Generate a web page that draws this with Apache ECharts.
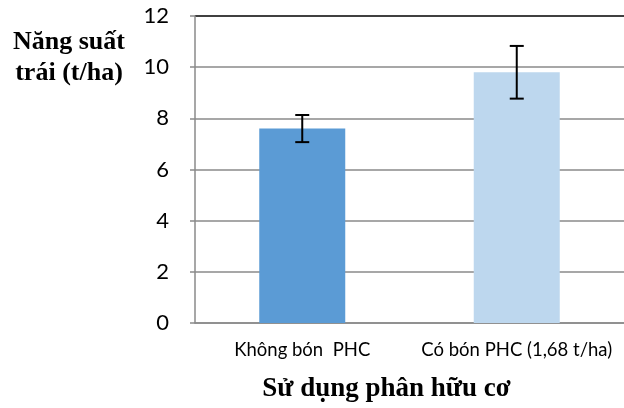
<!DOCTYPE html>
<html><head><meta charset="utf-8">
<script src="https://cdn.jsdelivr.net/npm/echarts@6/dist/echarts.min.js"></script>
<style>html,body{margin:0;padding:0;background:#fff}#c{width:624px;height:408px}</style>
</head><body><div id="c"></div>
<script>
const categories = ['Không bón  PHC', 'Có bón PHC (1,68 t/ha)'];
const values = [7.6, 9.8];
const errors = [0.53, 1.03];
const barColors = ['#5B9BD5', '#BDD7EE'];
const yTicks = [0, 2, 4, 6, 8, 10, 12];
const yTitle = 'Năng suất\ntrái (t/ha)';
const xTitle = 'Sử dụng phân hữu cơ';

const chart = echarts.init(document.getElementById('c'), null, {renderer: 'canvas'});
const gridColors = yTicks.map((t, i) => i === yTicks.length - 1 ? '#000000' : '#8a8a8a');
chart.setOption({
  animation: false,
  title: {
    text: yTitle, left: 64, top: 22, textAlign: 'center',
    textStyle: {fontFamily: 'Liberation Serif', fontWeight: 'bold', fontSize: 26, lineHeight: 31, color: '#000'}
  },
  grid: {left: 195, top: 16, bottom: 85, width: 432},
  xAxis: {
    type: 'category', data: categories,
    axisLine: {lineStyle: {color: '#8a8a8a', width: 1.5}},
    axisTick: {length: 6, lineStyle: {color: '#8a8a8a', width: 1.5}},
    axisLabel: {color: '#000', fontFamily: 'Lato', fontSize: 18.5, margin: 18, interval: 0, hideOverlap: false},
    name: xTitle, nameLocation: 'middle', nameGap: 53,
    nameTextStyle: {fontFamily: 'Liberation Serif', fontWeight: 'bold', fontSize: 27, color: '#000', padding: [0, 46, 0, 0]}
  },
  yAxis: {
    type: 'value', min: 0, max: 12, interval: 2,
    axisLine: {show: true, lineStyle: {color: '#8a8a8a', width: 1.5}},
    axisTick: {show: true, length: 5, lineStyle: {color: '#8a8a8a', width: 1.5}},
    axisLabel: {color: '#000', fontFamily: 'Lato', fontSize: 22, margin: 26},
    splitLine: {lineStyle: {color: gridColors, width: 1.5}}
  },
  series: [
    {
      type: 'bar', barWidth: 86,
      data: values.map((v, i) => ({value: v, itemStyle: {color: barColors[i]}}))
    },
    {
      type: 'custom',
      data: values.map((v, i) => [i, v - errors[i], v + errors[i]]),
      renderItem: function (params, api) {
        const lo = api.coord([api.value(0), api.value(1)]);
        const hi = api.coord([api.value(0), api.value(2)]);
        const w = 7;
        const style = {stroke: '#000', lineWidth: 2};
        return {
          type: 'group',
          children: [
            {type: 'line', shape: {x1: hi[0], y1: hi[1], x2: lo[0], y2: lo[1]}, style},
            {type: 'line', shape: {x1: hi[0] - w, y1: hi[1], x2: hi[0] + w, y2: hi[1]}, style},
            {type: 'line', shape: {x1: lo[0] - w, y1: lo[1], x2: lo[0] + w, y2: lo[1]}, style}
          ]
        };
      },
      z: 10
    }
  ]
});
</script></body></html>
